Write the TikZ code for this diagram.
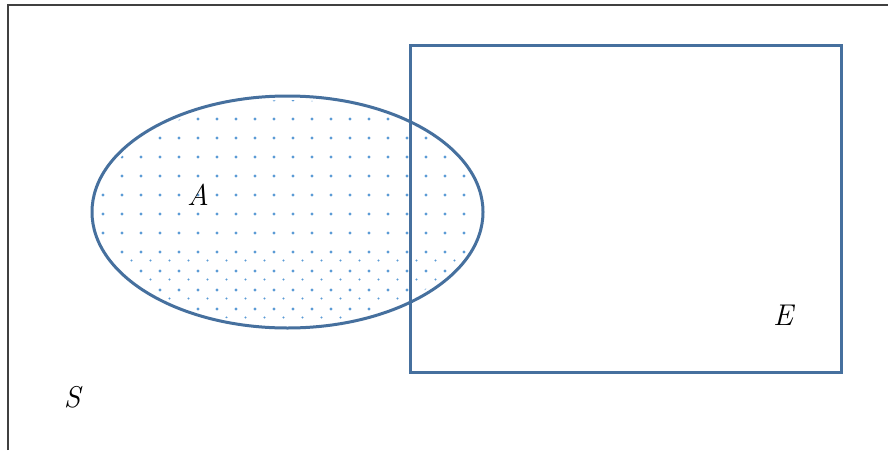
\documentclass[tikz,border=0pt]{standalone}
\usepackage{fontspec}
\usetikzlibrary{shapes.geometric}
\definecolor{setblue}{HTML}{46709E}
\definecolor{dotblue}{HTML}{5B9BD5}
\definecolor{framegray}{HTML}{404040}
\tikzset{
  setline/.style={draw=setblue, line width=3pt},
  lbl/.style={inner sep=0pt, font=\fontsize{30}{32}\selectfont\itshape},
  bigdot/.style={fill=dotblue},
  smalldot/.style={fill=dotblue},
}
\begin{document}
\begin{tikzpicture}[x=1pt,y=-1pt]
\useasboundingbox (0,0) rectangle (888,450);
\fill[white] (0,0) rectangle (888,450);
% outer frame (cropped)
\draw[framegray, line width=2.4pt] (8,450) -- (8,5) -- (888,5);
% dots in A
\begin{scope}
  \clip (287.5,212) ellipse [x radius=191, y radius=112];
  \foreach \i in {0,...,21} {
    \foreach \j in {0,...,12} {
      \fill[bigdot] ({84+19*\i},{100+19*\j}) circle (1.6pt);
    }
  }
  \foreach \i in {0,...,22} {
    \foreach \j in {0,...,3} {
      \fill[smalldot] ({93.5+19*\i},{260.5+19*\j}) circle (1.05pt);
    }
  }
\end{scope}
\node[setline, ellipse, minimum width=391pt, minimum height=232pt, inner sep=0pt] (A) at (287.5,212) {};
\node[setline, rectangle, minimum width=431pt, minimum height=327pt, inner sep=0pt] (E) at (625.5,208.5) {};
\node[lbl] (la) at (198,195) {A};
\node[lbl] (le) at (783,315) {E};
\node[lbl] (ls) at (72,397) {S};
\end{tikzpicture}
\end{document}
